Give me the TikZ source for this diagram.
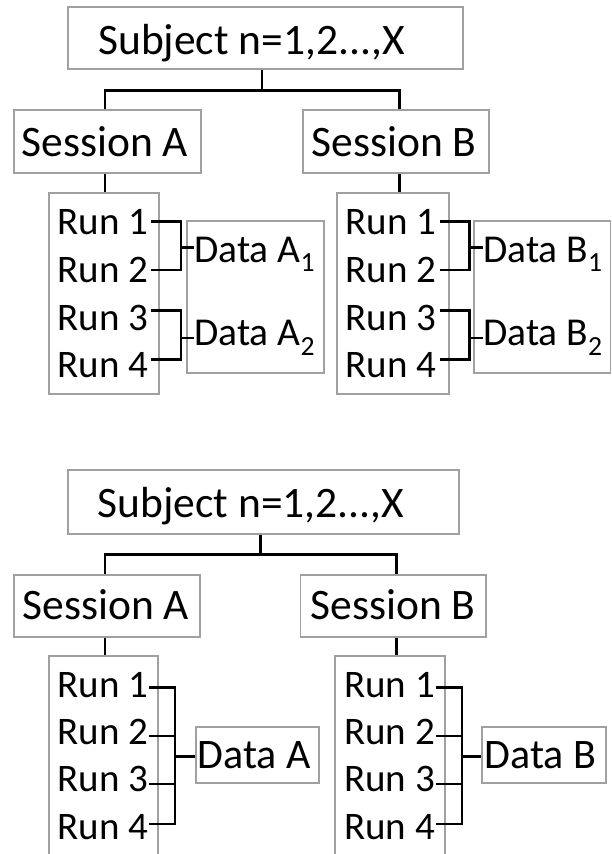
\documentclass[tikz,border=0pt]{standalone}
\usepackage{fontspec}
\setmainfont{Carlito}
\definecolor{boxgray}{RGB}{160,160,160}
\begin{document}
\begin{tikzpicture}[x=1pt,y=-1pt,
  box/.style={draw=boxgray, line width=1.8pt, inner sep=0pt, rectangle},
  conn/.style={draw=black, line width=2.7pt},
  big/.style={font=\fontsize{43.5}{50}\selectfont, inner sep=0pt, anchor=base west},
  run/.style={font=\fontsize{39}{46}\selectfont, inner sep=0pt, anchor=base west},
  dat/.style={font=\fontsize{39.5}{46}\selectfont, inner sep=0pt, anchor=base west},
  datb/.style={font=\fontsize{42}{48}\selectfont, inner sep=0pt, anchor=base west}]
\useasboundingbox[fill=white] (0,0) rectangle (612,854);

% ---------- top diagram ----------
\node[box, minimum width=395.6pt, minimum height=62pt] (subj1) at (265.5,38.3) {};
\node[big] (subj1t) at (98,54.3) {Subject n=1,2...,X};
\node[box, minimum width=186.7pt, minimum height=63.3pt] (sessA1) at (107.35,141.65) {};
\node[big] (sessA1t) at (21.5,156.7) {Session A};
\node[box, minimum width=186.6pt, minimum height=63.3pt] (sessB1) at (396,141.65) {};
\node[big] (sessB1t) at (311.5,156.7) {Session B};
\node[box, minimum width=110pt, minimum height=201.3pt] (runA1) at (104.3,293.35) {};
\node[box, minimum width=111.7pt, minimum height=201.3pt] (runB1) at (392.85,293.35) {};
\node[box, minimum width=137.6pt, minimum height=151.7pt] (datA1) at (255.5,297.15) {};
\node[box, minimum width=136.2pt, minimum height=151.7pt] (datB1) at (542.4,297.15) {};

\node[run] (rA11) at (57.2,234.8) {Run 1};
\node[run] (rA12) at (57.2,282.3) {Run 2};
\node[run] (rA13) at (57.2,330) {Run 3};
\node[run] (rA14) at (57.2,377.3) {Run 4};
\node[run] (rB11) at (345.6,234.8) {Run 1};
\node[run] (rB12) at (345.6,282.3) {Run 2};
\node[run] (rB13) at (345.6,330) {Run 3};
\node[run] (rB14) at (345.6,377.3) {Run 4};

\node[dat] (dA1t) at (194,262.3) {Data A\textsubscript{1}};
\node[dat] (dA2t) at (194,345.7) {Data A\textsubscript{2}};
\node[dat] (dB1t) at (483,262.3) {Data B\textsubscript{1}};
\node[dat] (dB2t) at (483,345.7) {Data B\textsubscript{2}};

\coordinate (kA11) at (181,247.3);
\coordinate (kA12) at (181,338);
\coordinate (kB11) at (469.3,247.3);
\coordinate (kB12) at (469.3,338);

\draw[conn] ([xshift=-3.5pt]subj1.south) -- ++(0,20) coordinate (bus1);
\draw[conn] ([xshift=-2.35pt]sessA1.north) |- (bus1) -| ([xshift=3.7pt]sessB1.north);
\coordinate (sA1b) at ([xshift=-2.35pt]sessA1.south);
\coordinate (sB1b) at ([xshift=3.7pt]sessB1.south);
\draw[conn] (sA1b) -- (sA1b |- runA1.north);
\draw[conn] (sB1b) -- (sB1b |- runB1.north);

\draw[conn] ([shift={(3pt,13.5pt)}]rA11.base east) -| (kA11);
\draw[conn] ([shift={(3pt,12.3pt)}]rA12.base east) -| (kA11);
\draw[conn] (kA11) -- (kA11 -| dA1t.west);
\draw[conn] ([shift={(3pt,19.3pt)}]rA13.base east) -| (kA12);
\draw[conn] ([shift={(3pt,17.6pt)}]rA14.base east) -| (kA12);
\draw[conn] (kA12) -- (kA12 -| dA2t.west);

\draw[conn] ([shift={(3pt,13.5pt)}]rB11.base east) -| (kB11);
\draw[conn] ([shift={(3pt,12.3pt)}]rB12.base east) -| (kB11);
\draw[conn] (kB11) -- (kB11 -| dB1t.west);
\draw[conn] ([shift={(3pt,19.3pt)}]rB13.base east) -| (kB12);
\draw[conn] ([shift={(3pt,17.6pt)}]rB14.base east) -| (kB12);
\draw[conn] (kB12) -- (kB12 -| dB2t.west);

% ---------- bottom diagram ----------
\node[box, minimum width=391.6pt, minimum height=63.4pt] (subj2) at (263.5,502) {};
\node[big] (subj2t) at (97.5,517.7) {Subject n=1,2...,X};
\node[box, minimum width=186pt, minimum height=62.3pt] (sessA2) at (107,605.85) {};
\node[big] (sessA2t) at (22.3,619.7) {Session A};
\node[box, minimum width=185.8pt, minimum height=62.3pt] (sessB2) at (393.4,605.85) {};
\node[big] (sessB2t) at (310.3,619.7) {Session B};
\node[box, minimum width=108.7pt, minimum height=214pt] (runA2) at (103.35,763) {};
\node[box, minimum width=110pt, minimum height=214pt] (runB2) at (390.3,763) {};
\node[box, minimum width=123pt, minimum height=56pt] (datA2) at (257.5,755.3) {};
\node[box, minimum width=124.3pt, minimum height=56pt] (datB2) at (543.85,755.3) {};

\node[run] (rA21) at (57.2,697.3) {Run 1};
\node[run] (rA22) at (57.2,744.3) {Run 2};
\node[run] (rA23) at (57.2,791.7) {Run 3};
\node[run] (rA24) at (57.2,839) {Run 4};
\node[run] (rB21) at (343.9,697.3) {Run 1};
\node[run] (rB22) at (343.9,744.3) {Run 2};
\node[run] (rB23) at (343.9,791.7) {Run 3};
\node[run] (rB24) at (343.9,839) {Run 4};

\node[datb] (dA2bt) at (197.5,768.3) {Data A};
\node[datb] (dB2bt) at (484.5,768.3) {Data B};

\coordinate (kA2) at (175,756.7);
\coordinate (kB2) at (462,756.7);

\draw[conn] ([xshift=-2.8pt]subj2.south) -- ++(0,20) coordinate (bus2);
\draw[conn] ([xshift=-2pt]sessA2.north) |- (bus2) -| ([xshift=3.3pt]sessB2.north);
\coordinate (sA2b) at ([xshift=-2pt]sessA2.south);
\coordinate (sB2b) at ([xshift=3.3pt]sessB2.south);
\draw[conn] (sA2b) -- (sA2b |- runA2.north);
\draw[conn] (sB2b) -- (sB2b |- runB2.north);

\draw[conn] ([shift={(1pt,9.6pt)}]rA21.base east) -| (kA2);
\draw[conn] ([shift={(1pt,8.3pt)}]rA22.base east) -| (kA2);
\draw[conn] ([shift={(1pt,7.7pt)}]rA23.base east) -| (kA2);
\draw[conn] ([shift={(1pt,15pt)}]rA24.base east) -| (kA2);
\draw[conn] (kA2) -- (kA2 -| datA2.west);

\draw[conn] ([shift={(1pt,9.6pt)}]rB21.base east) -| (kB2);
\draw[conn] ([shift={(1pt,8.3pt)}]rB22.base east) -| (kB2);
\draw[conn] ([shift={(1pt,7.7pt)}]rB23.base east) -| (kB2);
\draw[conn] ([shift={(1pt,15pt)}]rB24.base east) -| (kB2);
\draw[conn] (kB2) -- (kB2 -| datB2.west);
\end{tikzpicture}
\end{document}
